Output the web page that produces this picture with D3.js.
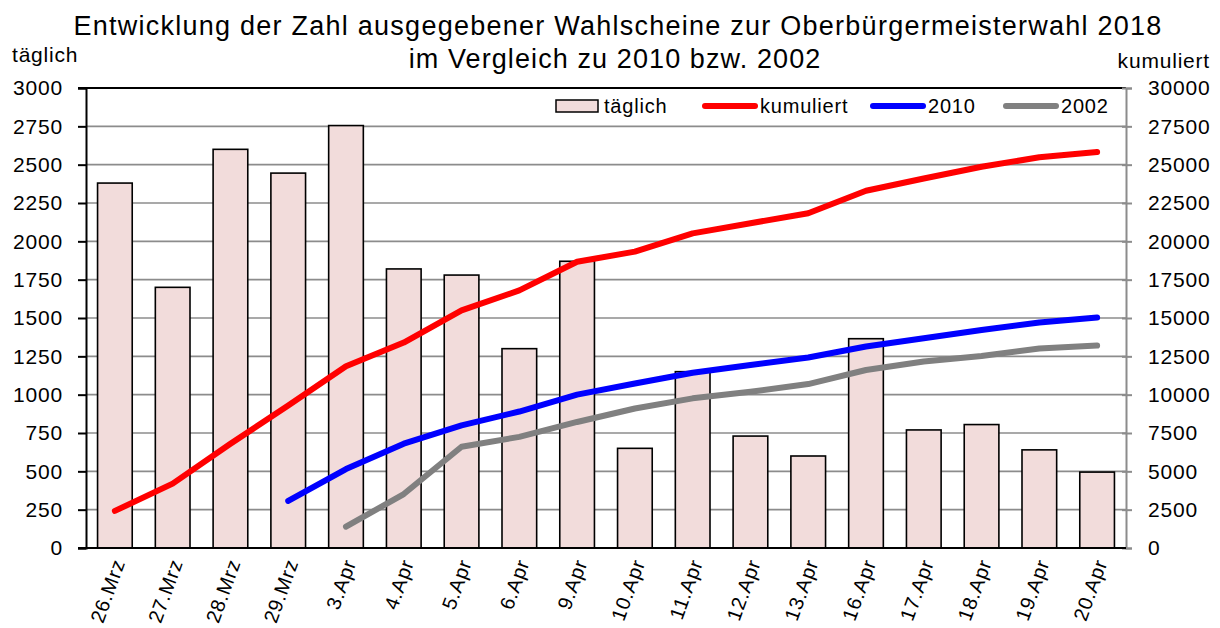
<!DOCTYPE html>
<html>
<head>
<meta charset="utf-8">
<script src="https://cdn.jsdelivr.net/npm/d3@7"></script>
<style>
  html, body { margin: 0; padding: 0; background: #fff; }
  svg { display: block; font-family: "Liberation Sans", Arial, sans-serif; }
  svg text { letter-spacing: 0.8px; }
</style>
</head>
<body>
<svg id="chart" width="1220" height="628"></svg>
<script>
// ---- data ----
const categories = ["26.Mrz","27.Mrz","28.Mrz","29.Mrz","3.Apr","4.Apr","5.Apr","6.Apr","9.Apr","10.Apr","11.Apr","12.Apr","13.Apr","16.Apr","17.Apr","18.Apr","19.Apr","20.Apr"];
const daily = [2380, 1700, 2600, 2445, 2755, 1820, 1780, 1300, 1870, 650, 1150, 730, 600, 1365, 770, 805, 640, 495];
const cumulative = [2420, 4200, 6800, 9300, 11850, 13400, 15500, 16800, 18670, 19330, 20520, 21180, 21830, 23300, 24100, 24860, 25480, 25830];
const cum2010 = [null, null, null, 3070, 5150, 6800, 8000, 8900, 10000, 10730, 11430, 11930, 12420, 13140, 13680, 14220, 14700, 15030];
const cum2002 = [null, null, null, null, 1390, 3520, 6600, 7250, 8220, 9100, 9760, 10190, 10690, 11610, 12160, 12520, 13010, 13200];
const leftTicks = [0,250,500,750,1000,1250,1500,1750,2000,2250,2500,2750,3000];
const rightTicks = [0,2500,5000,7500,10000,12500,15000,17500,20000,22500,25000,27500,30000];
const titleLines = ["Entwicklung der Zahl ausgegebener Wahlscheine zur Oberbürgermeisterwahl 2018", "im Vergleich zu 2010 bzw. 2002"];
const legendItems = [
  {label: "täglich", type: "bar"},
  {label: "kumuliert", type: "line", color: "#ff0000"},
  {label: "2010", type: "line", color: "#0000ff"},
  {label: "2002", type: "line", color: "#808080"}
];

// ---- layout ----
const L = 86, R = 1126, T = 88, B = 548;
const svg = d3.select("#chart");

const x = d3.scaleBand().domain(categories).range([L, R]).paddingInner(0.4).paddingOuter(0.2);
const yL = d3.scaleLinear().domain([0, 3000]).range([B, T]);
const yR = d3.scaleLinear().domain([0, 30000]).range([B, T]);

// gridlines
svg.append("g").selectAll("line").data(leftTicks.filter(d => d > 0 && d < 3000)).join("line")
  .attr("x1", L).attr("x2", R).attr("y1", d => yL(d)).attr("y2", d => yL(d))
  .attr("stroke", "#8c8c8c").attr("stroke-width", 1.6);

// bars
svg.append("g").selectAll("rect").data(daily).join("rect")
  .attr("x", (d, i) => x(categories[i]))
  .attr("y", d => yL(d))
  .attr("width", x.bandwidth())
  .attr("height", d => B - yL(d))
  .attr("fill", "#f2dcdb").attr("stroke", "#000").attr("stroke-width", 1.6);

// top border
svg.append("line").attr("x1", L - 8).attr("x2", R).attr("y1", T).attr("y2", T)
  .attr("stroke", "#000").attr("stroke-width", 2);

// left axis
const axL = svg.append("g").attr("transform", `translate(${L},0)`)
  .call(d3.axisLeft(yL).tickValues(leftTicks).tickSize(8).tickPadding(15).tickFormat(d3.format("d")));
axL.select(".domain").attr("stroke", "#000").attr("stroke-width", 2);
axL.selectAll(".tick line").attr("stroke", "#000").attr("stroke-width", 2);
axL.selectAll("text").attr("font-size", 21).attr("fill", "#000").style("font-family", "Liberation Sans, Arial, sans-serif");

// right axis
const axR = svg.append("g").attr("transform", `translate(${R},0)`)
  .call(d3.axisRight(yR).tickValues(rightTicks).tickSize(6).tickPadding(16).tickFormat(d3.format("d")));
axR.select(".domain").attr("stroke", "#8c8c8c").attr("stroke-width", 2);
axR.selectAll(".tick line").attr("x1", -4).attr("stroke", "#8c8c8c").attr("stroke-width", 2);
axR.selectAll("text").attr("font-size", 21).attr("fill", "#000").style("font-family", "Liberation Sans, Arial, sans-serif");

// bottom axis
const axB = svg.append("g").attr("transform", `translate(0,${B})`)
  .call(d3.axisBottom(x).tickSize(0).tickPadding(0));
axB.select(".domain").remove();
axB.selectAll("text")
  .attr("font-size", 20).attr("fill", "#000")
  .style("font-family", "Liberation Sans, Arial, sans-serif")
  .attr("text-anchor", "end")
  .attr("dy", "0.35em")
  .attr("transform", "translate(4,12) rotate(-70)");
svg.append("line").attr("x1", L - 8).attr("x2", R).attr("y1", B).attr("y2", B)
  .attr("stroke", "#000").attr("stroke-width", 2);

// lines
const cx = c => x(c) + x.bandwidth() / 2;
const lineGen = d3.line().defined(d => d[1] != null).x(d => cx(d[0])).y(d => yR(d[1]));
[[cumulative, "#ff0000"], [cum2010, "#0000ff"], [cum2002, "#808080"]].forEach(([vals, col]) => {
  svg.append("path")
    .datum(categories.map((c, i) => [c, vals[i]]))
    .attr("d", lineGen)
    .attr("fill", "none").attr("stroke", col).attr("stroke-width", 6)
    .attr("stroke-linecap", "round").attr("stroke-linejoin", "round");
});

// legend
const legX = [556, 702, 870, 1003];
const leg = svg.append("g").attr("font-size", 20);
legendItems.forEach((it, i) => {
  const lx = legX[i];
  if (it.type === "bar") {
    leg.append("rect").attr("x", lx).attr("y", 100).attr("width", 42).attr("height", 12)
      .attr("fill", "#f2dcdb").attr("stroke", "#000").attr("stroke-width", 1.5);
    leg.append("text").attr("x", lx + 48).attr("y", 113).text(it.label);
  } else {
    leg.append("line").attr("x1", lx + 3).attr("x2", lx + 53).attr("y1", 106).attr("y2", 106)
      .attr("stroke", it.color).attr("stroke-width", 6).attr("stroke-linecap", "round");
    leg.append("text").attr("x", lx + 58).attr("y", 113).text(it.label);
  }
});

// titles
svg.append("text").attr("x", 618).attr("y", 35).attr("text-anchor", "middle")
  .attr("font-size", 27).style("letter-spacing", "1.25px").text(titleLines[0]);
svg.append("text").attr("x", 615).attr("y", 68).attr("text-anchor", "middle")
  .attr("font-size", 27).style("letter-spacing", "1.1px").text(titleLines[1]);
svg.append("text").attr("x", 12).attr("y", 62).attr("font-size", 21).text("täglich");
svg.append("text").attr("x", 1210).attr("y", 68).attr("text-anchor", "end").attr("font-size", 21).text("kumuliert");
</script>
</body>
</html>
